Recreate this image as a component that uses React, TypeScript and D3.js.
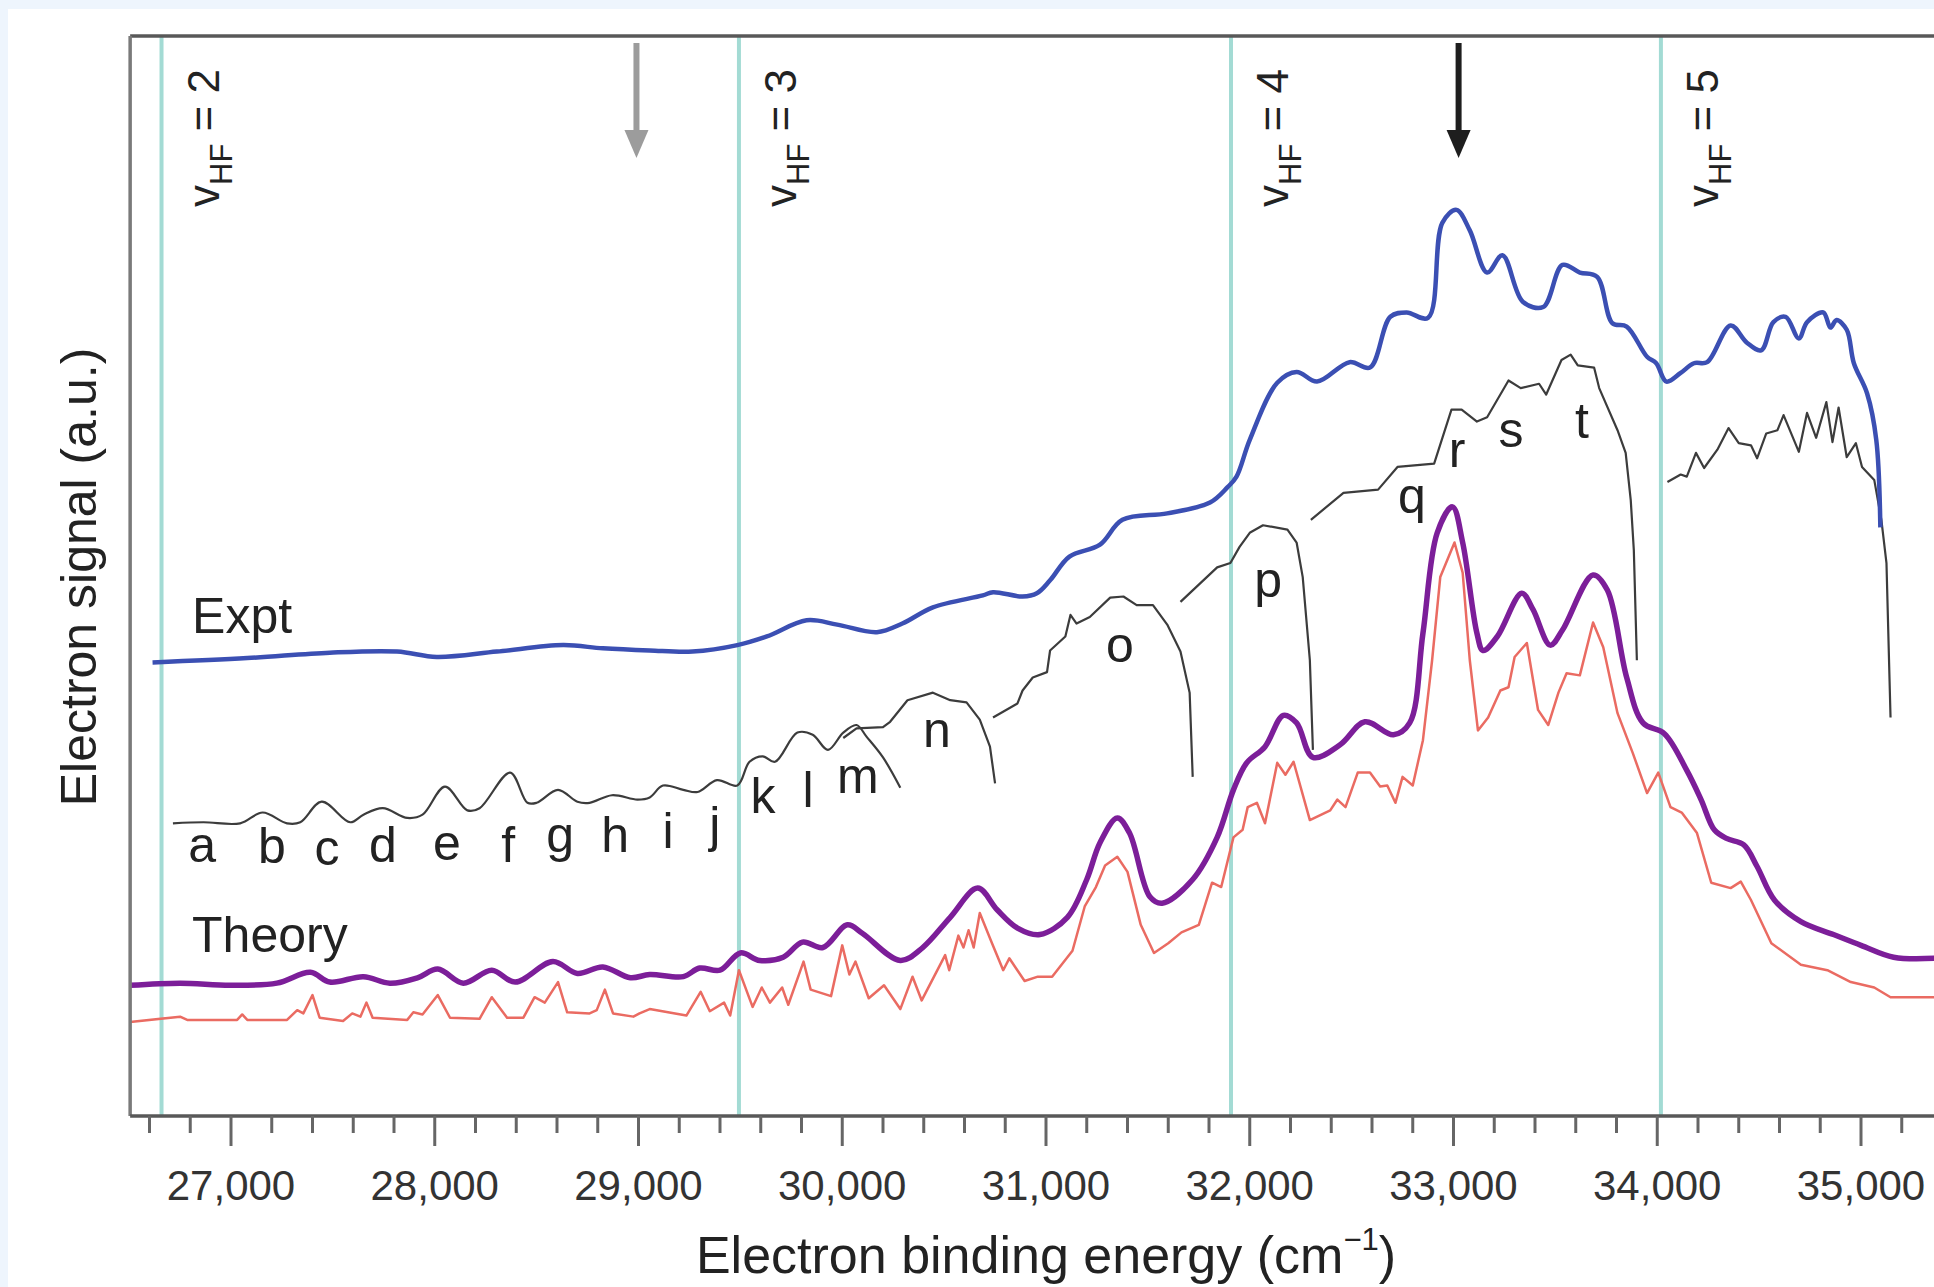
import React, { useEffect } from 'react';
import * as d3 from 'd3';

const W = 1934;
const H = 1287;

// energy (cm-1), signal (a.u.)
const exptSmooth = [
  [26615, 42.0], [27080, 42.4], [27485, 42.9], [27815, 43.0], [28010, 42.5], [28305, 43.0],
  [28630, 43.6], [28825, 43.3], [29055, 43.1], [29265, 43.0], [29485, 43.6], [29630, 44.4],
  [29825, 45.9], [29975, 45.5], [30170, 44.8], [30295, 45.6], [30445, 47.1], [30690, 48.2],
  [30740, 48.5], [30885, 48.1], [30955, 48.4], [31020, 49.6], [31115, 51.8], [31265, 52.9],
  [31375, 55.2], [31595, 55.8], [31805, 56.8], [31890, 58.2], [31935, 59.2], [32000, 62.6],
  [32135, 67.9], [32230, 68.9], [32330, 68.0], [32490, 69.8], [32590, 69.3], [32690, 74.0],
  [32770, 74.4], [32875, 73.9], [32945, 82.7], [33015, 83.9], [33080, 82.0], [33165, 78.1],
  [33240, 79.7], [33340, 75.4], [33440, 74.9], [33535, 78.8], [33620, 78.1], [33705, 77.7],
  [33780, 73.4], [33850, 73.1], [33950, 70.3], [33995, 69.7], [34045, 68.0], [34115, 68.8],
  [34180, 69.7], [34245, 69.8], [34360, 73.2], [34440, 71.6], [34510, 70.9], [34570, 73.5],
  [34630, 74.0], [34695, 72.0], [34735, 73.5], [34815, 74.4], [34850, 73.0], [34880, 73.7],
  [34930, 72.8], [34965, 69.7], [35030, 66.9], [35075, 62.6], [35095, 54.5],
];

const exptSegA = [
  [26715, 27.1], [26865, 27.2], [27045, 27.1], [27155, 28.1], [27275, 27.1], [27340, 27.2],
  [27445, 29.1], [27585, 27.2], [27650, 27.9], [27745, 28.5], [27865, 27.6], [27940, 27.9],
  [28050, 30.5], [28160, 28.3], [28220, 28.5], [28370, 31.8], [28455, 29.0], [28500, 29.0],
  [28605, 30.2], [28700, 29.1], [28760, 29.0], [28870, 29.7], [28995, 29.3], [29055, 29.5],
  [29120, 30.6], [29220, 30.2], [29290, 30.0], [29385, 31.1], [29485, 30.6], [29545, 32.8],
  [29610, 33.3], [29670, 32.8], [29780, 35.5], [29855, 35.3], [29930, 33.9], [30005, 35.5],
  [30070, 36.2], [30120, 35.1], [30200, 33.2], [30285, 30.4],
];
const exptSegB = [
  [30005, 35.0], [30070, 35.9], [30200, 36.0], [30235, 36.5], [30320, 38.5], [30445, 39.2],
  [30530, 38.5], [30610, 38.3], [30675, 36.7], [30725, 34.2], [30750, 30.8],
];
const exptSegC = [
  [30740, 36.9], [30860, 38.2], [30885, 39.4], [30935, 40.6], [31005, 41.1], [31020, 43.1],
  [31095, 44.4], [31120, 46.4], [31150, 45.6], [31215, 46.2], [31315, 48.0], [31380, 48.1],
  [31445, 47.3], [31525, 47.3], [31595, 45.5], [31660, 43.0], [31705, 39.2], [31720, 31.4],
];
const exptSegD = [
  [31660, 47.6], [31840, 50.8], [31905, 51.2], [31950, 52.7], [32000, 54.0], [32065, 54.7],
  [32185, 54.3], [32230, 53.1], [32260, 49.9], [32295, 42.2], [32310, 33.9],
];
const exptSegE = [
  [32300, 55.2], [32460, 57.7], [32630, 58.0], [32725, 60.1], [32905, 60.4], [32990, 65.4],
  [33040, 65.4], [33115, 64.3], [33165, 64.7], [33270, 68.1], [33330, 67.4], [33420, 67.8],
  [33455, 66.8], [33530, 70.0], [33575, 70.5], [33610, 69.5], [33690, 69.3], [33715, 67.4],
  [33805, 63.5], [33845, 61.4], [33870, 57.0], [33885, 52.4], [33900, 42.2],
];
const exptSegF = [
  [34050, 58.7], [34115, 59.4], [34145, 59.2], [34190, 61.4], [34230, 60.0], [34295, 61.7],
  [34350, 63.7], [34400, 62.3], [34460, 62.1], [34490, 60.9], [34535, 63.2], [34590, 63.5],
  [34620, 64.9], [34695, 61.5], [34735, 65.1], [34780, 62.8], [34830, 66.1], [34860, 62.4],
  [34890, 65.6], [34930, 61.0], [34975, 62.3], [35005, 60.1], [35065, 58.9], [35100, 55.2],
  [35125, 51.2], [35145, 36.9],
];
const exptSegments = [exptSegA, exptSegB, exptSegC, exptSegD, exptSegE, exptSegF];

const theorySmooth = [
  [26505, 12.1], [26750, 12.3], [26995, 12.1], [27225, 12.3], [27390, 13.3], [27485, 12.4],
  [27650, 12.9], [27780, 12.3], [27915, 12.8], [28015, 13.6], [28140, 12.3], [28280, 13.5],
  [28395, 12.4], [28580, 14.3], [28700, 13.2], [28825, 13.8], [28960, 12.8], [29055, 13.1],
  [29220, 12.9], [29300, 13.7], [29400, 13.5], [29500, 15.1], [29595, 14.4], [29710, 14.7],
  [29805, 16.1], [29905, 15.6], [30025, 17.7], [30100, 16.9], [30285, 14.4], [30395, 15.6],
  [30530, 18.4], [30665, 21.1], [30760, 19.1], [30860, 17.4], [30970, 16.8], [31105, 18.4],
  [31200, 21.9], [31265, 25.3], [31350, 27.6], [31410, 26.2], [31510, 20.3], [31570, 19.7],
  [31720, 21.9], [31840, 25.8], [31920, 30.2], [31985, 32.7], [32075, 34.2], [32165, 37.1],
  [32230, 36.4], [32310, 33.2], [32445, 34.4], [32565, 36.5], [32705, 35.3], [32785, 36.4],
  [32850, 44.7], [32920, 54.0], [32995, 56.4], [33045, 53.1], [33115, 44.7], [33145, 43.1],
  [33215, 44.4], [33335, 48.4], [33390, 46.9], [33475, 43.6], [33535, 45.0], [33685, 50.1],
  [33755, 48.7], [33850, 40.6], [33930, 36.4], [34035, 35.4], [34145, 32.0], [34215, 29.3],
  [34280, 26.5], [34340, 25.7], [34425, 25.1], [34490, 23.1], [34575, 20.0], [34705, 18.0],
  [34865, 16.8], [35000, 15.8], [35160, 14.7], [35360, 14.6],
];

const theoryRaw = [
  [26505, 8.7], [26750, 9.2], [26785, 8.9], [27030, 8.9], [27055, 9.4], [27080, 8.9],
  [27275, 8.9], [27325, 9.8], [27355, 9.5], [27400, 11.2], [27435, 9.1], [27550, 8.8],
  [27595, 9.5], [27635, 9.2], [27665, 10.5], [27695, 9.1], [27865, 8.9], [27895, 9.6],
  [27940, 9.4], [28015, 11.2], [28075, 9.1], [28220, 9.0], [28280, 11.0], [28355, 9.1],
  [28435, 9.1], [28490, 11.0], [28540, 10.5], [28605, 12.4], [28650, 9.6], [28760, 9.5],
  [28795, 9.8], [28835, 11.7], [28875, 9.5], [28975, 9.2], [29005, 9.5], [29055, 9.9],
  [29235, 9.3], [29305, 11.5], [29350, 9.7], [29420, 10.5], [29450, 9.3], [29493, 13.5],
  [29560, 10.1], [29605, 11.9], [29645, 10.5], [29705, 11.9], [29735, 10.3], [29810, 14.3],
  [29845, 11.7], [29945, 11.1], [30000, 15.8], [30035, 13.1], [30065, 14.3], [30130, 10.9],
  [30205, 12.1], [30285, 9.9], [30345, 12.9], [30390, 10.7], [30505, 14.9], [30525, 13.5],
  [30570, 16.7], [30595, 15.6], [30620, 17.2], [30645, 15.6], [30675, 18.8], [30735, 16.0],
  [30790, 13.5], [30820, 14.6], [30895, 12.5], [30960, 12.9], [31030, 12.9], [31130, 15.3],
  [31190, 19.4], [31245, 21.2], [31290, 23.2], [31350, 24.0], [31400, 22.6], [31465, 17.7],
  [31530, 15.1], [31600, 16.0], [31665, 17.0], [31750, 17.7], [31815, 21.6], [31860, 21.2],
  [31920, 25.8], [31965, 26.5], [31990, 28.6], [32035, 29.0], [32075, 27.1], [32135, 32.7],
  [32175, 31.6], [32215, 32.8], [32295, 27.4], [32395, 28.3], [32430, 29.3], [32470, 28.6],
  [32530, 31.8], [32590, 31.8], [32640, 30.5], [32675, 30.6], [32715, 29.0], [32750, 31.4],
  [32800, 30.6], [32850, 34.8], [32895, 42.2], [32935, 49.9], [33005, 53.1], [33045, 50.3],
  [33080, 42.2], [33120, 35.7], [33170, 36.9], [33230, 39.4], [33270, 39.7], [33300, 42.5],
  [33360, 43.8], [33415, 37.6], [33465, 36.2], [33515, 39.2], [33555, 41.0], [33620, 40.8],
  [33685, 45.7], [33735, 43.4], [33805, 37.3], [33880, 33.6], [33950, 29.9], [34005, 31.8],
  [34065, 28.6], [34120, 28.1], [34195, 26.2], [34265, 21.6], [34360, 21.1], [34410, 21.7],
  [34460, 20.0], [34560, 16.0], [34705, 14.0], [34835, 13.5], [34950, 12.4], [35065, 11.9],
  [35145, 11.0], [35360, 11.0],
];

// vHF thresholds (cm-1)
const vhfLines = [
  { v: 2, energy: 26659 },
  { v: 3, energy: 29493 },
  { v: 4, energy: 31908 },
  { v: 5, energy: 34018 },
];

// peak letters: label, energy, signal at baseline
const peakLabels: [string, number, number][] = [
  ['a', 26858, 23.5], ['b', 27201, 23.4], ['c', 27471, 23.2], ['d', 27746, 23.5],
  ['e', 28060, 23.7], ['f', 28360, 23.5], ['g', 28615, 24.4], ['h', 28885, 24.4],
  ['i', 29145, 24.8], ['j', 29375, 25.4], ['k', 29611, 28.1], ['l', 29832, 28.6],
  ['m', 30077, 29.9], ['n', 30465, 34.2], ['o', 31363, 42.0], ['p', 32090, 48.1],
  ['q', 32796, 55.8], ['r', 33017, 60.1], ['s', 33282, 61.9], ['t', 33631, 62.8],
];

const seriesLabels: [string, number, number][] = [
  ['Expt', 26809, 44.7],
  ['Theory', 26809, 15.2],
];

const arrows = [
  { energy: 28990, color: '#9c9c9c' },
  { energy: 33025, color: '#1e1e1e' },
];

const majorTicks = [27000, 28000, 29000, 30000, 31000, 32000, 33000, 34000, 35000];
const minorTicks = d3.range(26600, 35201, 200).filter((t) => t % 1000 !== 0);

const FONT = 'Liberation Sans, Arial, Helvetica, sans-serif';

export default function App() {
  useEffect(() => {
    document.body.style.margin = '0';
    document.body.style.overflow = 'hidden';
  }, []);

  const x = d3.scaleLinear().domain([27000, 35000]).range([231, 1861]);
  const y = d3.scaleLinear().domain([0, 100]).range([1116, 36]);
  const left = x(26505);
  const top = y(100);
  const bottom = y(0);

  const straight = d3.line<number[]>().x((d) => x(d[0])).y((d) => y(d[1]));
  const smooth = d3
    .line<number[]>()
    .x((d) => x(d[0]))
    .y((d) => y(d[1]))
    .curve(d3.curveCatmullRom.alpha(0.5));

  const fmt = d3.format(',');

  return (
    <svg width={W} height={H} style={{ display: 'block' }} fontFamily={FONT}>
      <rect x={0} y={0} width={W} height={H} fill="#eef5fd" />
      <rect x={8} y={9} width={W - 8} height={H - 9} fill="#ffffff" />

      {vhfLines.map((l) => (
        <line key={l.v} x1={x(l.energy)} x2={x(l.energy)} y1={top} y2={bottom}
          stroke="#a3dbd4" strokeWidth={4} />
      ))}

      {exptSegments.map((seg, i) => (
        <path key={i} d={(i === 0 ? smooth(seg) : straight(seg)) || ''} fill="none" stroke="#3c3c3c"
          strokeWidth={2.2} strokeLinejoin="round" />
      ))}
      <path d={smooth(exptSmooth) || ''} fill="none" stroke="#3b4fb3" strokeWidth={4.5}
        strokeLinejoin="round" />
      <path d={straight(theoryRaw) || ''} fill="none" stroke="#ea6b62" strokeWidth={2.5}
        strokeLinejoin="round" />
      <path d={smooth(theorySmooth) || ''} fill="none" stroke="#7c1e99" strokeWidth={5.5}
        strokeLinejoin="round" />

      {arrows.map((a) => {
        const cx = x(a.energy);
        return (
          <g key={a.energy} fill={a.color} stroke="none">
            <rect x={cx - 3} y={43} width={6} height={92} />
            <path d={`M${cx - 12},130 L${cx + 12},130 L${cx},158 Z`} />
          </g>
        );
      })}

      {vhfLines.map((l) => (
        <text key={l.v} transform={`translate(${x(l.energy) + 57},207) rotate(-90)`}
          fontSize={44} fill="#222">
          v<tspan fontSize={31} dy={13}>HF</tspan>
          <tspan dy={-13}>{` = ${l.v}`}</tspan>
        </text>
      ))}

      {peakLabels.map(([t, e, s]) => (
        <text key={t} x={x(e)} y={y(s)} textAnchor="middle" fontSize={50} fill="#222">{t}</text>
      ))}
      {seriesLabels.map(([t, e, s]) => (
        <text key={t} x={x(e)} y={y(s)} fontSize={50} fill="#222">{t}</text>
      ))}

      {/* frame */}
      <line x1={left} x2={W} y1={top} y2={top} stroke="#585858" strokeWidth={3.5} />
      <line x1={left} x2={left} y1={top} y2={bottom} stroke="#7a7a7a" strokeWidth={3.5} />
      <line x1={left} x2={W} y1={bottom} y2={bottom} stroke="#585858" strokeWidth={3.5} />

      {minorTicks.map((t) => (
        <line key={t} x1={x(t)} x2={x(t)} y1={bottom} y2={bottom + 17} stroke="#666" strokeWidth={3} />
      ))}
      {majorTicks.map((t) => (
        <g key={t}>
          <line x1={x(t)} x2={x(t)} y1={bottom} y2={bottom + 30} stroke="#666" strokeWidth={3} />
          <text x={x(t)} y={1200} textAnchor="middle" fontSize={42} fill="#333">{fmt(t)}</text>
        </g>
      ))}

      <text x={1046} y={1273} textAnchor="middle" fontSize={52} fill="#222">
        Electron binding energy (cm<tspan fontSize={31} dy={-23}>−1</tspan>
        <tspan dy={23}>)</tspan>
      </text>
      <text transform="translate(96,577) rotate(-90)" textAnchor="middle" fontSize={50} fill="#222">
        Electron signal (a.u.)
      </text>
    </svg>
  );
}
